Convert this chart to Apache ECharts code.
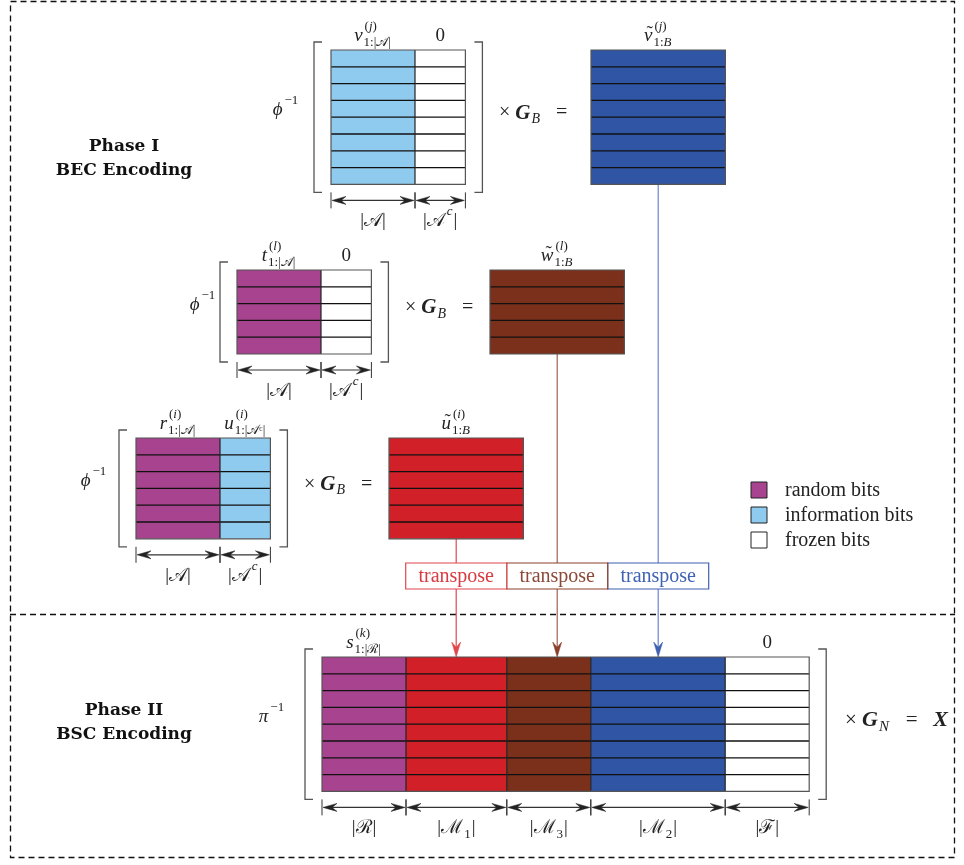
<!DOCTYPE html>
<html><head><meta charset="utf-8">
<script src="https://cdn.jsdelivr.net/npm/echarts@6/dist/echarts.min.js"></script>
<style>html,body{margin:0;padding:0;background:#fff}#c{width:964px;height:865px}</style>
</head><body><div id="c"></div>
<script>
// ================= DATA =================
const legendItems = [['random','random bits'],['info','information bits'],['frozen','frozen bits']];
// matrices: rows and column segments [type, width in bits]
const matV = {rows:8, cols:[['info',5],['frozen',3]]};
const matT = {rows:5, cols:[['random',5],['frozen',3]]};
const matR = {rows:6, cols:[['random',5],['info',3]]};
const encV = {rows:8, cols:[['v',8]]};
const encW = {rows:5, cols:[['w',8]]};
const encU = {rows:6, cols:[['u',8]]};
const matS = {rows:8, cols:[['random',5],['u',6],['w',5],['v',8],['frozen',5]]};
// labels above columns
const topV = [['v',{sup:'(j)',sub:'1:|𝒜|'}], ['0']];
const topT = [['t',{sup:'(l)',sub:'1:|𝒜|'}], ['0']];
const topR = [['r',{sup:'(i)',sub:'1:|𝒜|'}], ['u',{sup:'(i)',sub:'1:|𝒜ᶜ|'}]];
const topS = [['s',{sup:'(k)',sub:'1:|ℛ|'}], null, null, null, ['0']];
const topEncV = [[{tilde:'v'},{sup:'(j)',sub:'1:B'}]];
const topEncW = [[{tilde:'w'},{sup:'(l)',sub:'1:B'}]];
const topEncU = [[{tilde:'u'},{sup:'(i)',sub:'1:B'}]];
// dimension labels below columns
const dimsA = [['|𝒜|'], ['|𝒜',{sup:'c'},'|']];
const dimsS = [['|ℛ|'], ['|ℳ',{sub:'1'},'|'], ['|ℳ',{sub:'3'},'|'], ['|ℳ',{sub:'2'},'|'], ['|ℱ|']];
const phiInv = ['ϕ',{sup:'−1'}];
const piInv = ['π',{sup:'−1'}];
const timesGB = ['× ',{b:'G'},{sub:'B'},'   ='];
const timesGN = ['× ',{b:'G'},{sub:'N'},'   =   ',{b:'X'}];
const phaseLabels = [['Phase I','BEC Encoding'],['Phase II','BSC Encoding']];
const transposeLabels = ['transpose','transpose','transpose'];

// ================= LAYOUT / STYLE =================
const SERIF = "'Liberation Serif','DejaVu Serif',serif";
const BOLDSERIF = "'DejaVu Serif','Liberation Serif',serif";
const CELL = 16.8;
const COLORS = {random:'#a8448f', info:'#8fcbee', frozen:'#ffffff', u:'#d12027', w:'#7b301c', v:'#2f55a4'};
const LINKC = {u:{line:'#e04a4f', box:'#e0474c', text:'#d83a40'}, w:{line:'#a0604f', box:'#8b3f2c', text:'#8b4a38'}, v:{line:'#6a86cf', box:'#3f5fb0', text:'#3f62b5'}};
const layout = [
  {m:matV, x:331, y:50, top:topV, dims:dimsA, bracket:true, pre:phiInv, preX:286, post:timesGB, postX:499, postSize:20},
  {m:encV, x:591, y:50, top:topEncV, link:'v'},
  {m:matT, x:237, y:270, top:topT, dims:dimsA, bracket:true, pre:phiInv, preX:203, post:timesGB, postX:405, postSize:20},
  {m:encW, x:490, y:270, top:topEncW, link:'w'},
  {m:matR, x:136, y:438, top:topR, dims:dimsA, bracket:true, pre:phiInv, preX:94, post:timesGB, postX:304, postSize:20},
  {m:encU, x:389, y:438, top:topEncU, link:'u'},
  {m:matS, x:322, y:657, top:topS, dims:dimsS, bracket:true, pre:piInv, preX:272, post:timesGN, postX:845, postSize:21}
];
const transposeY = [563, 589];

const mctx = document.createElement('canvas').getContext('2d');
function measure(t, font){ mctx.font = font; return mctx.measureText(t).width; }
function runs(s, size, italic){
  const out=[]; const re=/([A-Za-zφϕπ]+)|([^A-Za-zφϕπ]+)/g; let m;
  while((m=re.exec(s))){
    if(m[1]) out.push({t:m[1], font:(italic?'italic ':'')+size+'px '+SERIF});
    else out.push({t:m[2], font:size+'px '+SERIF});
  }
  return out;
}
function typeset(tokens, size){
  const pieces=[]; let x=0; const small=Math.round(size*0.7);
  for(const tk of tokens){
    if(typeof tk==='string'){ for(const r of runs(tk,size,true)){ pieces.push(Object.assign({},r,{dx:x,dy:0})); x+=measure(r.t,r.font);} }
    else if(tk.b){ const f='italic bold '+(size+1)+'px '+SERIF; pieces.push({t:tk.b,font:f,dx:x,dy:0}); x+=measure(tk.b,f); }
    else if(tk.tilde){
      const f='italic '+size+'px '+SERIF; const w=measure(tk.tilde,f);
      pieces.push({t:tk.tilde,font:f,dx:x,dy:0});
      const tf=size+'px '+SERIF; const tw=measure('˜',tf);
      pieces.push({t:'˜',font:tf,dx:x+w/2-tw/2+1.5,dy:-size*0.08});
      x+=w;
    }
    else {
      let w=0; const x0=x+1;
      if(tk.sup){ let xx=x0+1; for(const r of runs(tk.sup,small,true)){ pieces.push(Object.assign({},r,{dx:xx,dy:-size*0.5})); xx+=measure(r.t,r.font);} w=Math.max(w,xx-x0); }
      if(tk.sub){ let xx=x0; for(const r of runs(tk.sub,small,true)){ pieces.push(Object.assign({},r,{dx:xx,dy:size*0.32})); xx+=measure(r.t,r.font);} w=Math.max(w,xx-x0); }
      x=x0+w+1;
    }
  }
  return {pieces, width:x};
}

function renderAll(params, api){
  const P=(x,y)=>api.coord([x,y]);
  const ch=[];
  const rect=(x,y,w,h,style)=>{const a=P(x,y),b=P(x+w,y+h); ch.push({type:'rect',shape:{x:a[0],y:a[1],width:b[0]-a[0],height:b[1]-a[1]},style});};
  const line=(x1,y1,x2,y2,style)=>{const a=P(x1,y1),b=P(x2,y2); ch.push({type:'line',shape:{x1:a[0],y1:a[1],x2:b[0],y2:b[1]},style});};
  const poly=(pts,style,closed)=>{ch.push({type:closed?'polygon':'polyline',shape:{points:pts.map(p=>P(p[0],p[1]))},style});};
  const text=(x,y,t,font,fill,align)=>{const a=P(x,y); ch.push({type:'text',x:a[0],y:a[1],style:{text:t,font,fill:fill||'#222',align:align||'center',verticalAlign:'middle'}});};
  const math=(tokens,x,y,size,align,fill)=>{
    const ts=typeset(tokens,size); const a=P(x,y);
    let x0=a[0]; if(align==='center') x0-=ts.width/2; else if(align==='right') x0-=ts.width;
    for(const p of ts.pieces) ch.push({type:'text',x:x0+p.dx,y:a[1]+p.dy,style:{text:p.t,font:p.font,fill:fill||'#222',align:'left',verticalAlign:'middle'}});
  };
  const head=(x,y,dir,len,hw,color)=>{
    if(dir==='left'||dir==='right'){const s=dir==='right'?-1:1; poly([[x,y],[x+s*len,y-hw],[x+s*len*0.65,y],[x+s*len,y+hw]],{fill:color,stroke:color,lineWidth:0.5},true);}
    else {const s=dir==='down'?-1:1; poly([[x,y],[x-hw,y+s*len],[x,y+s*len*0.65],[x+hw,y+s*len]],{fill:color,stroke:color,lineWidth:0.5},true);}
  };

  // outer dashed frame and separator
  rect(10.5,1.5,944,856,{fill:'none',stroke:'#111',lineWidth:1.3,lineDash:[6,4]});
  line(10,614.5,955,614.5,{stroke:'#111',lineWidth:1.3,lineDash:[6,4]});

  // connectors
  const targetTop = layout[layout.length-1].y;
  const linkOrder=['u','w','v'];
  layout.forEach(L=>{
    if(!L.link) return;
    const w=L.m.cols.reduce((s,c)=>s+c[1],0)*CELL;
    const cx=L.x+w/2, by=L.y+L.m.rows*CELL;
    const c=LINKC[L.link];
    line(cx,by,cx,targetTop-6,{stroke:c.line,lineWidth:1.2});
    head(cx,targetTop,'down',15,4.5,c.box);
    const k=linkOrder.indexOf(L.link);
    const bw=101;
    rect(cx-bw/2,transposeY[0],bw,transposeY[1]-transposeY[0],{fill:'#fff',stroke:c.box,lineWidth:1.2});
    text(cx,(transposeY[0]+transposeY[1])/2+1,transposeLabels[k],'20px '+SERIF,c.text);
  });

  layout.forEach(L=>{
    const m=L.m; const H=m.rows*CELL; const W=m.cols.reduce((s,c)=>s+c[1],0)*CELL;
    let cx=L.x; const bounds=[];
    m.cols.forEach(c=>{ const w=c[1]*CELL; rect(cx,L.y,w,H,{fill:COLORS[c[0]],stroke:null}); bounds.push([cx,cx+w]); cx+=w; });
    for(let r=1;r<m.rows;r++) line(L.x,L.y+r*CELL,L.x+W,L.y+r*CELL,{stroke:'#111',lineWidth:1.3});
    bounds.slice(1).forEach(b=>line(b[0],L.y,b[0],L.y+H,{stroke:'#222',lineWidth:1.2}));
    rect(L.x,L.y,W,H,{fill:'none',stroke:'#555',lineWidth:1.2});
    if(L.top){
      if(L.link){ math(L.top[0], L.x+W/2, L.y-14, 19, 'center'); }
      else L.top.forEach((t,i)=>{ if(t) math(t,(bounds[i][0]+bounds[i][1])/2, L.y-14, 19,'center'); });
    }
    if(L.bracket){
      const bl=L.x-17, br=L.x+W+17, bt=L.y-8, bb=L.y+H+8;
      poly([[bl+8,bt],[bl,bt],[bl,bb],[bl+8,bb]],{fill:'none',stroke:'#555',lineWidth:1.3});
      poly([[br-8,bt],[br,bt],[br,bb],[br-8,bb]],{fill:'none',stroke:'#555',lineWidth:1.3});
      math(L.pre, L.preX, L.y+H/2-7, 19, 'center');
      math(L.post, L.postX, L.y+H/2-4, L.postSize, 'left');
    }
    if(L.dims){
      const ay=L.y+H+16;
      bounds.forEach((b,i)=>{
        line(b[0],ay-8,b[0],ay+8,{stroke:'#333',lineWidth:1});
        line(b[1],ay-8,b[1],ay+8,{stroke:'#333',lineWidth:1});
        line(b[0]+4,ay,b[1]-4,ay,{stroke:'#333',lineWidth:1.2});
        head(b[0]+1,ay,'left',14,4,'#222');
        head(b[1]-1,ay,'right',14,4,'#222');
        math(L.dims[i],(b[0]+b[1])/2,L.y+H+37,19,'center');
      });
    }
  });

  // phase labels
  const phaseY=[[147,171],[711,735]];
  phaseLabels.forEach((p,i)=>{ text(124,phaseY[i][0],p[0],'bold 17px '+BOLDSERIF,'#111'); text(124,phaseY[i][1],p[1],'bold 17px '+BOLDSERIF,'#111'); });

  // legend
  legendItems.forEach((it,i)=>{
    const y=482+i*25;
    rect(751,y,16,16,{fill:COLORS[it[0]],stroke:'#222',lineWidth:1});
    text(785,y+9,it[1],'20px '+SERIF,'#222','left');
  });
  return {type:'group',children:ch};
}

const chart=echarts.init(document.getElementById('c'),null,{renderer:'canvas'});
chart.setOption({
  animation:false,
  grid:{left:0,right:0,top:0,bottom:0},
  xAxis:{type:'value',min:0,max:964,show:false},
  yAxis:{type:'value',min:0,max:865,inverse:true,show:false},
  series:[{type:'custom',silent:true,clip:false,data:[[0,0]],renderItem:renderAll}]
});
</script></body></html>
